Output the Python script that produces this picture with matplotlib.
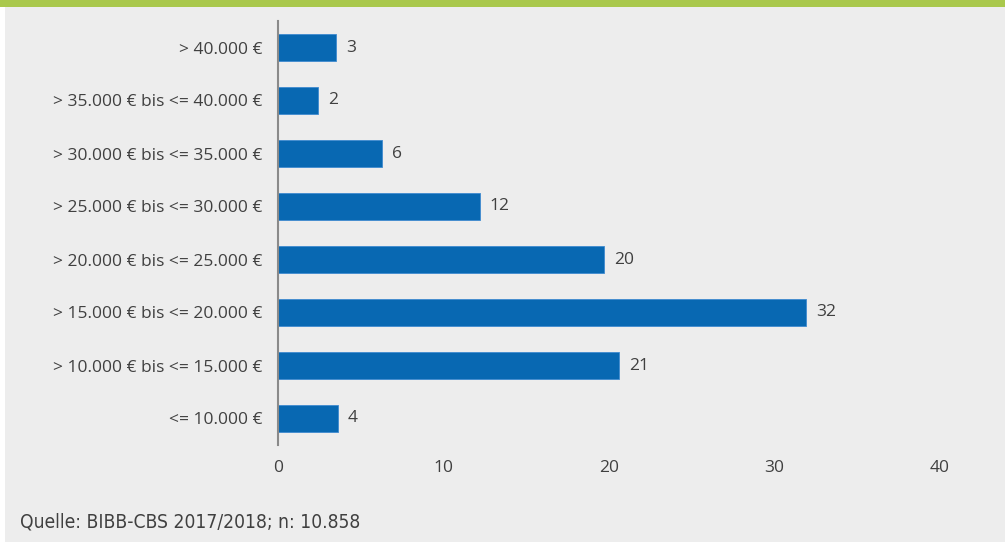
import matplotlib.pyplot as plt
from matplotlib.patches import Rectangle

categories = [
    "<= 10.000 €",
    "> 10.000 € bis <= 15.000 €",
    "> 15.000 € bis <= 20.000 €",
    "> 20.000 € bis <= 25.000 €",
    "> 25.000 € bis <= 30.000 €",
    "> 30.000 € bis <= 35.000 €",
    "> 35.000 € bis <= 40.000 €",
    "> 40.000 €",
]
values = [3.6, 20.6, 31.9, 19.7, 12.2, 6.3, 2.4, 3.5]
labels = ["4", "21", "32", "20", "12", "6", "2", "3"]
xticks = [0, 10, 20, 30, 40]
source = "Quelle: BIBB-CBS 2017/2018; n: 10.858"

BG = "#ededed"
BLUE = "#0868b2"
TEXT = "#404040"

plt.rcParams['font.family'] = ['Open Sans', 'DejaVu Sans']

fig = plt.figure(figsize=(10.05, 5.42), dpi=100)
fig.patch.set_facecolor("white")
# grey panel and green top band
fig.patches.append(Rectangle((5 / 1005, 0), 1, 1, transform=fig.transFigure,
                             facecolor=BG, edgecolor="none", zorder=-2))
fig.patches.append(Rectangle((0, 1 - 7 / 542), 1, 7 / 542, transform=fig.transFigure,
                             facecolor="#a9c84c", edgecolor="none", zorder=-1))

ax = fig.add_axes([278 / 1005, 97 / 542, 662 / 1005, 424 / 542])
ax.set_zorder(2)
ax.set_facecolor("none")
y = range(len(categories))
ax.barh(y, values, height=0.5, color=BLUE, edgecolor="#3f8ad0", linewidth=0.6)
for yi, v, lab in zip(y, values, labels):
    ax.text(v + 0.6, yi, lab, va="center", ha="left", fontsize=12.5, color=TEXT)

ax.set_xlim(0, 40)
ax.set_ylim(-0.5, 7.5)
ax.set_yticks(list(y))
ax.set_yticklabels(categories, fontsize=12.5, color=TEXT)
ax.set_xticks(xticks)
ax.set_xticklabels([str(t) for t in xticks], fontsize=12.5, color=TEXT)
ax.tick_params(axis="y", length=0, pad=11.5)
ax.tick_params(axis="x", length=0, pad=11)
for s in ["top", "right", "bottom"]:
    ax.spines[s].set_visible(False)
ax.spines["left"].set_color("#8a8a8a")
ax.spines["left"].set_linewidth(1.5)

fig.text(20 / 1005, 1 - 522 / 542, source, fontsize=13.8, color=TEXT,
         family=['DejaVu Sans'], stretch="condensed", va="center", ha="left",
         zorder=3)

fig.savefig("out.png", dpi=100, facecolor=fig.get_facecolor())
